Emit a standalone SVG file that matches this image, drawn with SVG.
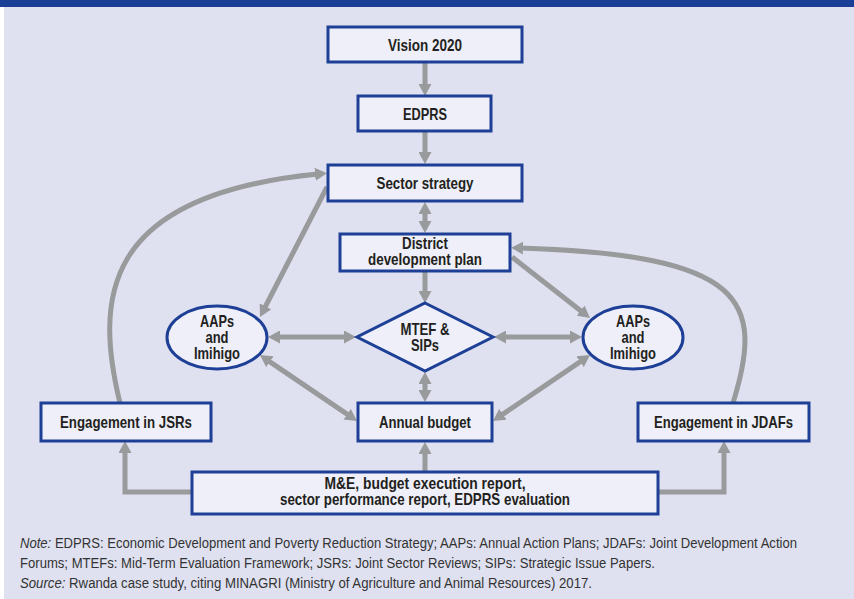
<svg xmlns="http://www.w3.org/2000/svg" width="854" height="599" viewBox="0 0 854 599">
<defs>
<style>
.bg{fill:#dfe1f0}
.box{fill:#eeeff8;stroke:#1e3f96;stroke-width:3}
.t{font-family:"Liberation Sans",Arial,sans-serif;font-weight:bold;font-size:16.5px;fill:#231f20;text-anchor:middle}
.c{fill:none;stroke:#999a9c;stroke-width:5}
.n{font-family:"Liberation Sans",Arial,sans-serif;font-size:14px;fill:#333}
</style>
<marker id="ah" viewBox="0 0 12 13" refX="3" refY="6.5" markerWidth="12" markerHeight="13" markerUnits="userSpaceOnUse" orient="auto-start-reverse">
<path d="M0,0 L12,6.5 L0,13 z" fill="#999a9c"/>
</marker>
</defs>
<rect x="0" y="0" width="854" height="599" fill="#ffffff"/>
<rect class="bg" x="4" y="7" width="850" height="592"/>
<rect x="0" y="0" width="854" height="7" fill="#1b3e97"/>

<g id="connectors">
<path class="c" d="M425,63 L425,87" marker-end="url(#ah)"/>
<path class="c" d="M425,132 L425,155" marker-end="url(#ah)"/>
<path class="c" d="M425,211 L425,224" marker-start="url(#ah)" marker-end="url(#ah)"/>
<path class="c" d="M425,272 L425,294" marker-end="url(#ah)"/>
<path class="c" d="M327,187 L264.1,309" marker-end="url(#ah)"/>
<path class="c" d="M512,257 L582.9,312.5" marker-end="url(#ah)"/>
<path class="c" d="M277,337 L347,337" marker-start="url(#ah)" marker-end="url(#ah)"/>
<path class="c" d="M503,337 L573,337" marker-start="url(#ah)" marker-end="url(#ah)"/>
<path class="c" d="M425,381 L425,393" marker-start="url(#ah)" marker-end="url(#ah)"/>
<path class="c" d="M267.4,360.1 L349.6,415.9" marker-start="url(#ah)" marker-end="url(#ah)"/>
<path class="c" d="M582.6,360.1 L500.4,415.9" marker-start="url(#ah)" marker-end="url(#ah)"/>
<path class="c" d="M425,472 L425,451" marker-end="url(#ah)"/>
<path class="c" d="M192,492 L125,492 L125,450" marker-end="url(#ah)"/>
<path class="c" d="M658,492 L724,492 L724,450" marker-end="url(#ah)"/>
<path class="c" d="M120,403 C95,300 100,195 318,174" marker-end="url(#ah)"/>
<path class="c" d="M733,403 C765,300 745,255 520,248" marker-end="url(#ah)"/>
</g>

<g id="vision">
<rect class="box" x="328" y="27" width="194" height="35"/>
<text class="t" x="425" y="51" textLength="74" lengthAdjust="spacingAndGlyphs">Vision 2020</text>
</g>
<g id="edprs">
<rect class="box" x="358" y="96" width="133" height="35"/>
<text class="t" x="425" y="120" textLength="44" lengthAdjust="spacingAndGlyphs">EDPRS</text>
</g>
<g id="sector">
<rect class="box" x="328" y="165" width="194" height="36"/>
<text class="t" x="425" y="189" textLength="97" lengthAdjust="spacingAndGlyphs">Sector strategy</text>
</g>
<g id="district">
<rect class="box" x="340" y="234" width="170" height="37"/>
<text class="t" x="425" y="249" textLength="46" lengthAdjust="spacingAndGlyphs">District</text>
<text class="t" x="425" y="265" textLength="114" lengthAdjust="spacingAndGlyphs">development plan</text>
</g>
<g id="aaps-left">
<ellipse class="box" cx="217" cy="337.5" rx="50" ry="31.5"/>
<text class="t" x="217" y="327" textLength="34" lengthAdjust="spacingAndGlyphs">AAPs</text>
<text class="t" x="217" y="343" textLength="23" lengthAdjust="spacingAndGlyphs">and</text>
<text class="t" x="217" y="359" textLength="46" lengthAdjust="spacingAndGlyphs">Imihigo</text>
</g>
<g id="mtef">
<polygon class="box" points="425,303 493,337 425,371 357,337"/>
<text class="t" x="425" y="335" textLength="49" lengthAdjust="spacingAndGlyphs">MTEF &amp;</text>
<text class="t" x="425" y="351" textLength="28" lengthAdjust="spacingAndGlyphs">SIPs</text>
</g>
<g id="aaps-right">
<ellipse class="box" cx="633" cy="337.5" rx="50" ry="31.5"/>
<text class="t" x="633" y="327" textLength="34" lengthAdjust="spacingAndGlyphs">AAPs</text>
<text class="t" x="633" y="343" textLength="23" lengthAdjust="spacingAndGlyphs">and</text>
<text class="t" x="633" y="359" textLength="46" lengthAdjust="spacingAndGlyphs">Imihigo</text>
</g>
<g id="jsrs">
<rect class="box" x="41" y="403" width="170" height="38"/>
<text class="t" x="126" y="428" textLength="132" lengthAdjust="spacingAndGlyphs">Engagement in JSRs</text>
</g>
<g id="budget">
<rect class="box" x="358" y="403" width="134" height="38"/>
<text class="t" x="425" y="428" textLength="92" lengthAdjust="spacingAndGlyphs">Annual budget</text>
</g>
<g id="jdafs">
<rect class="box" x="638" y="403" width="171" height="38"/>
<text class="t" x="723.5" y="428" textLength="139" lengthAdjust="spacingAndGlyphs">Engagement in JDAFs</text>
</g>
<g id="me">
<rect class="box" x="192" y="472" width="466" height="42"/>
<text class="t" x="425" y="489" textLength="201" lengthAdjust="spacingAndGlyphs">M&amp;E, budget execution report,</text>
<text class="t" x="425" y="505" textLength="290" lengthAdjust="spacingAndGlyphs">sector performance report, EDPRS evaluation</text>
</g>

<g id="note">
<text class="n" x="20" y="548" textLength="777" lengthAdjust="spacingAndGlyphs"><tspan font-style="italic">Note:</tspan> EDPRS: Economic Development and Poverty Reduction Strategy; AAPs: Annual Action Plans; JDAFs: Joint Development Action</text>
<text class="n" x="20" y="568" textLength="635" lengthAdjust="spacingAndGlyphs">Forums; MTEFs: Mid-Term Evaluation Framework; JSRs: Joint Sector Reviews; SIPs: Strategic Issue Papers.</text>
<text class="n" x="20" y="588" textLength="572" lengthAdjust="spacingAndGlyphs"><tspan font-style="italic">Source:</tspan> Rwanda case study, citing MINAGRI (Ministry of Agriculture and Animal Resources) 2017.</text>
</g>
</svg>
